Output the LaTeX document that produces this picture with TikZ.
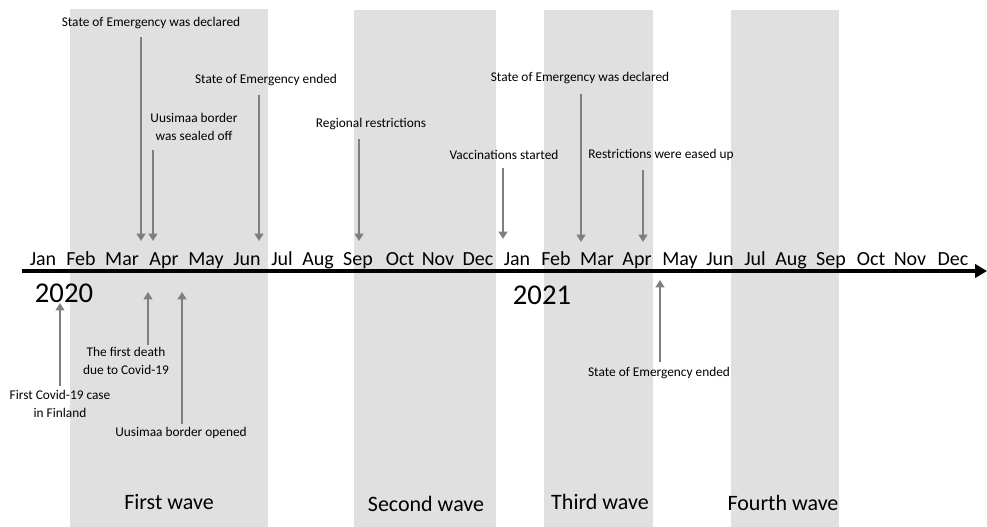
\documentclass[tikz,border=0pt]{standalone}
\usepackage{fontspec}
\setmainfont{Carlito}
\usetikzlibrary{arrows.meta}
\definecolor{band}{HTML}{E0E0E0}
\definecolor{evarrow}{HTML}{7F7F7F}
\tikzset{
  wave/.style={fill=band, draw=none},
  month/.style={inner sep=0pt, anchor=base, font=\fontsize{15}{18}\selectfont},
  year/.style={inner sep=0pt, anchor=base, font=\fontsize{21.5}{26}\selectfont},
  evlabel/.style={inner sep=0pt, align=center, font=\fontsize{10}{13.5}\selectfont},
  wavelabel/.style={inner sep=0pt, anchor=base, font=\fontsize{16.5}{20}\selectfont},
  evarr/.style={draw=evarrow, line width=2pt, -{Triangle[width=6.5pt,length=5.5pt]}},
  axis/.style={draw=black, line width=3pt, -{Triangle[width=10pt,length=9pt]}}
}
\begin{document}
\begin{tikzpicture}[x=0.75pt,y=-0.75pt]
\useasboundingbox (0,0) rectangle (987,527);
% wave bands
\fill[wave] (70,9) rectangle (268,527);
\fill[wave] (354,10) rectangle (496,527);
\fill[wave] (544,10) rectangle (653,527);
\fill[wave] (731,10) rectangle (839,527);
% axis
\coordinate (axstart) at (22,271);
\coordinate (axend) at (987,271);
\draw[axis] (axstart) -- (axend);
% months
\foreach \n/\x/\m in {a/43/Jan,b/81/Feb,c/122/Mar,d/164/Apr,e/206/May,f/247/Jun,g/282/Jul,h/318/Aug,i/358/Sep,j/400/Oct,k/438/Nov,l/478/Dec,
  m/517/Jan,n/556/Feb,o/597/Mar,p/637/Apr,q/680/May,r/720/Jun,s/755/Jul,t/791/Aug,u/831/Sep,v/871/Oct,w/910/Nov,x/953/Dec}
  \node[month] (mon\n) at (\x,265) {\m};
% years
\node[year] (y2020) at (64,302) {2020};
\node[year] (y2021) at (542,304) {2021};
% wave labels
\node[wavelabel] (w1) at (169,509) {First wave};
\node[wavelabel] (w2) at (426,511) {Second wave};
\node[wavelabel] (w3) at (600,509) {Third wave};
\node[wavelabel] (w4) at (783,510) {Fourth wave};
% top events
\node[evlabel] (e1) at (151,23) {State of Emergency was declared};
\coordinate (e1s) at (141,37); \coordinate (e1t) at (141,241);
\draw[evarr] (e1s) -- (e1t);
\node[evlabel] (e2) at (194,127) {Uusimaa border\\was sealed off};
\coordinate (e2s) at (153,150); \coordinate (e2t) at (153,241);
\draw[evarr] (e2s) -- (e2t);
\node[evlabel] (e3) at (266,80) {State of Emergency ended};
\coordinate (e3s) at (259,95); \coordinate (e3t) at (259,241);
\draw[evarr] (e3s) -- (e3t);
\node[evlabel] (e4) at (371,124) {Regional restrictions};
\coordinate (e4s) at (359,139); \coordinate (e4t) at (359,241);
\draw[evarr] (e4s) -- (e4t);
\node[evlabel] (e5) at (504,155) {Vaccinations started};
\coordinate (e5s) at (503,168); \coordinate (e5t) at (503,239);
\draw[evarr] (e5s) -- (e5t);
\node[evlabel] (e6) at (580,78) {State of Emergency was declared};
\coordinate (e6s) at (581,94); \coordinate (e6t) at (581,242);
\draw[evarr] (e6s) -- (e6t);
\node[evlabel] (e7) at (661,155) {Restrictions were eased up};
\coordinate (e7s) at (643,170); \coordinate (e7t) at (643,242);
\draw[evarr] (e7s) -- (e7t);
% bottom events
\node[evlabel] (b1) at (60,404) {First Covid-19 case\\in Finland};
\coordinate (b1s) at (60,386); \coordinate (b1t) at (60,303);
\draw[evarr] (b1s) -- (b1t);
\node[evlabel] (b2) at (126,361) {The first death\\due to Covid-19};
\coordinate (b2s) at (148,345); \coordinate (b2t) at (148,292);
\draw[evarr] (b2s) -- (b2t);
\node[evlabel] (b3) at (181,433) {Uusimaa border opened};
\coordinate (b3s) at (182,424); \coordinate (b3t) at (182,292);
\draw[evarr] (b3s) -- (b3t);
\node[evlabel] (b4) at (659,373) {State of Emergency ended};
\coordinate (b4s) at (660,362); \coordinate (b4t) at (660,280);
\draw[evarr] (b4s) -- (b4t);
\end{tikzpicture}
\end{document}
